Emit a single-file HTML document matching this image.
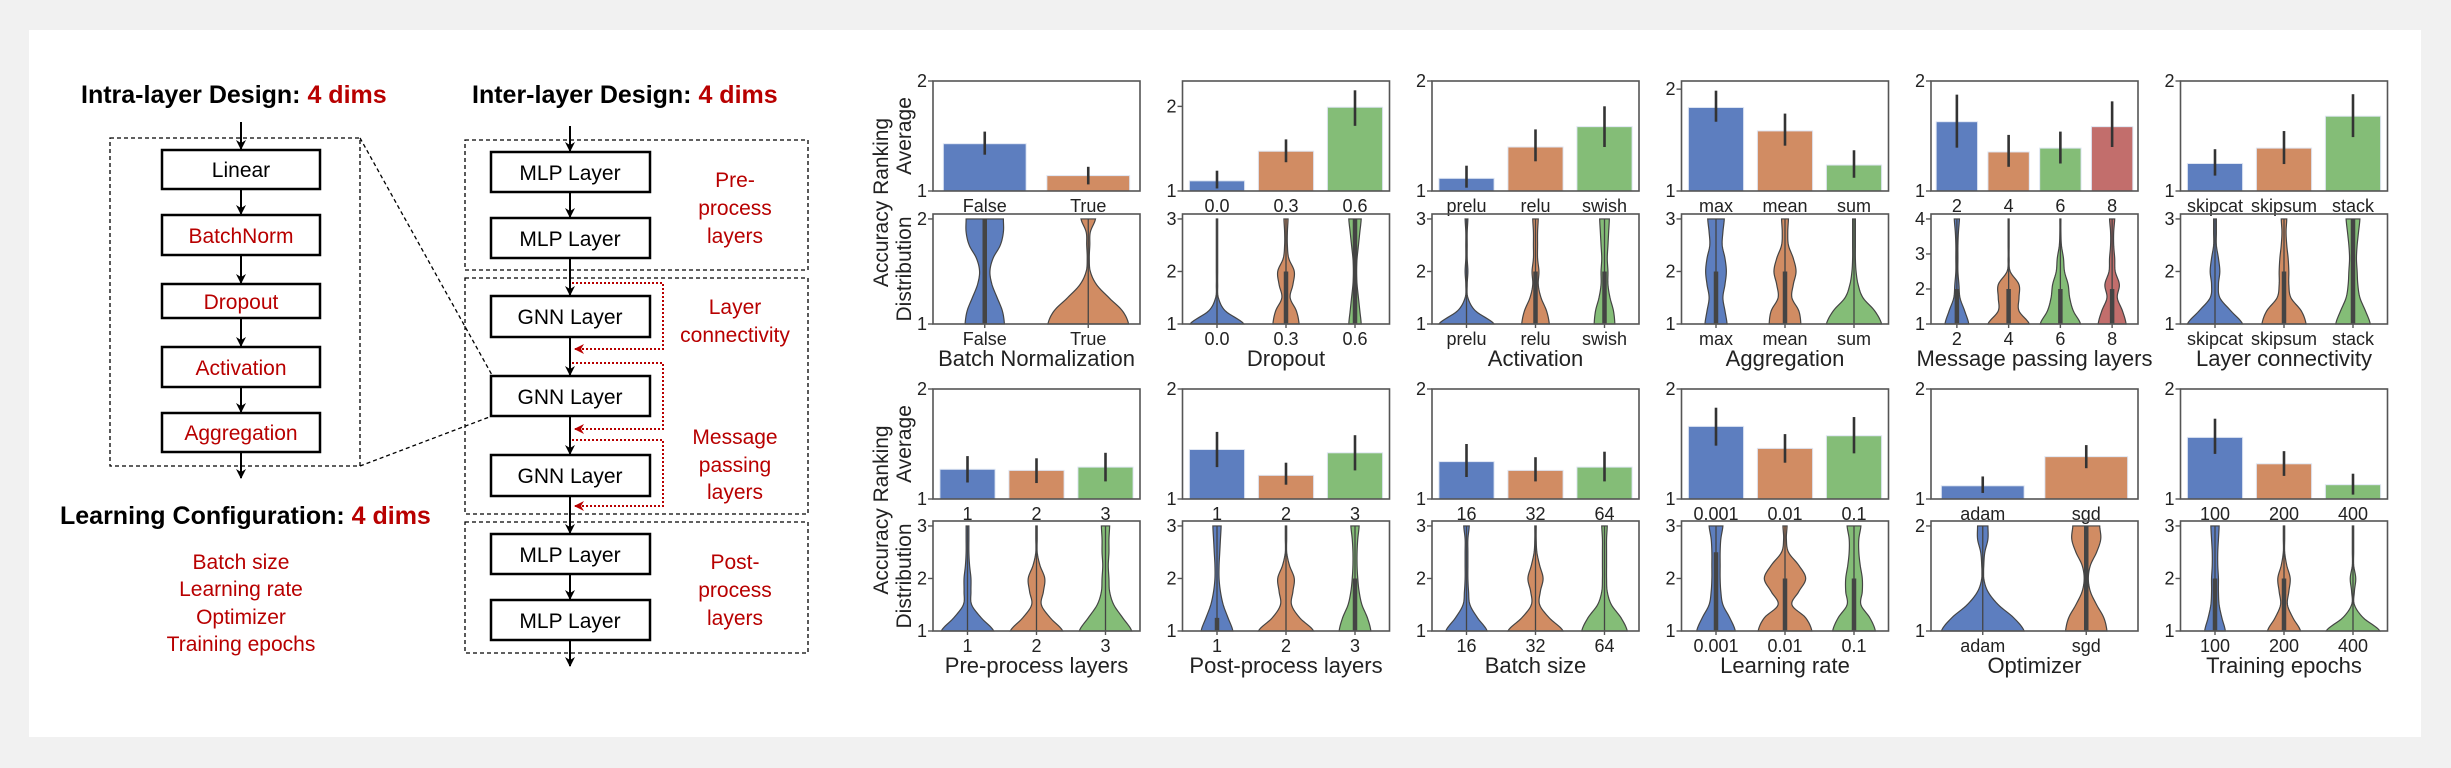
<!DOCTYPE html>
<html><head><meta charset="utf-8"><style>
html,body{margin:0;padding:0;background:#f1f1f1;}
svg{display:block;}
.t{font-family:"Liberation Sans",Arial,sans-serif;}
.n{font-family:"Liberation Sans Narrow","Liberation Sans",Arial,sans-serif;}
</style></head><body>
<svg id="fig" width="2451" height="768" viewBox="0 0 2451 768" xmlns="http://www.w3.org/2000/svg">
<defs>
<marker id="ah" viewBox="0 0 10 10" refX="9" refY="5" markerWidth="5" markerHeight="5" orient="auto"><path d="M0,0 L10,5 L0,10 L3,5 z" fill="#000"/></marker>
<marker id="ahr" viewBox="0 0 10 10" refX="9" refY="5" markerWidth="5" markerHeight="5" orient="auto"><path d="M0,0 L10,5 L0,10 L3,5 z" fill="#b80000"/></marker>
</defs>
<rect x="0" y="0" width="2451" height="768" fill="#f1f1f1"/>
<rect x="29" y="30" width="2392" height="707" fill="#fff"/>

<g id="diagram" class="t">
<text x="81" y="103" font-size="25" font-weight="bold">Intra-layer Design: <tspan fill="#b80000">4 dims</tspan></text>
<text x="472" y="103" font-size="25" font-weight="bold">Inter-layer Design: <tspan fill="#b80000">4 dims</tspan></text>
<rect x="110" y="138" width="250" height="328" fill="none" stroke="#000" stroke-width="1.3" stroke-dasharray="4,3"/>
<line x1="360" y1="138" x2="492" y2="375" stroke="#000" stroke-width="1.3" stroke-dasharray="4,3"/>
<line x1="360" y1="466" x2="492" y2="416" stroke="#000" stroke-width="1.3" stroke-dasharray="4,3"/>
<g stroke="#000" stroke-width="2" marker-end="url(#ah)">
<line x1="241" y1="122" x2="241" y2="149"/><line x1="241" y1="189" x2="241" y2="214"/><line x1="241" y1="255" x2="241" y2="283"/><line x1="241" y1="318" x2="241" y2="346"/><line x1="241" y1="387" x2="241" y2="412"/><line x1="241" y1="452" x2="241" y2="478"/>
</g>
<g fill="#fff" stroke="#000" stroke-width="2.5">
<rect x="162" y="150" width="158" height="39"/>
<rect x="162" y="215" width="158" height="40"/>
<rect x="162" y="284" width="158" height="34"/>
<rect x="162" y="347" width="158" height="40"/>
<rect x="162" y="413" width="158" height="39"/>
</g>
<g font-size="21" text-anchor="middle">
<text x="241" y="177">Linear</text>
<text x="241" y="243" fill="#b80000">BatchNorm</text>
<text x="241" y="309" fill="#b80000">Dropout</text>
<text x="241" y="375" fill="#b80000">Activation</text>
<text x="241" y="440" fill="#b80000">Aggregation</text>
</g>
<text x="60" y="524" font-size="25" font-weight="bold">Learning Configuration: <tspan fill="#b80000">4 dims</tspan></text>
<g font-size="21" text-anchor="middle" fill="#b80000">
<text x="241" y="569">Batch size</text><text x="241" y="596">Learning rate</text><text x="241" y="624">Optimizer</text><text x="241" y="651">Training epochs</text>
</g>
<g fill="none" stroke="#000" stroke-width="1.3" stroke-dasharray="4,3">
<rect x="465" y="140" width="343" height="130"/>
<rect x="465" y="278" width="343" height="236"/>
<rect x="465" y="522" width="343" height="131"/>
</g>
<g stroke="#000" stroke-width="2" marker-end="url(#ah)">
<line x1="570" y1="126" x2="570" y2="151"/><line x1="570" y1="192" x2="570" y2="217"/><line x1="570" y1="258" x2="570" y2="295"/><line x1="570" y1="337" x2="570" y2="375"/><line x1="570" y1="416" x2="570" y2="454"/><line x1="570" y1="496" x2="570" y2="533"/><line x1="570" y1="574" x2="570" y2="599"/><line x1="570" y1="640" x2="570" y2="666"/>
</g>
<g fill="none" stroke="#b80000" stroke-width="2" stroke-dasharray="2,2">
<polyline points="572,283 663,283 663,349 575,349" marker-end="url(#ahr)"/>
<polyline points="572,363 663,363 663,429 575,429" marker-end="url(#ahr)"/>
<polyline points="572,440 663,440 663,506 575,506" marker-end="url(#ahr)"/>
</g>
<g fill="#fff" stroke="#000" stroke-width="2.5">
<rect x="491" y="152" width="159" height="40"/>
<rect x="491" y="218" width="159" height="40"/>
<rect x="491" y="296" width="159" height="41"/>
<rect x="491" y="376" width="159" height="40"/>
<rect x="491" y="455" width="159" height="41"/>
<rect x="491" y="534" width="159" height="40"/>
<rect x="491" y="600" width="159" height="40"/>
</g>
<g font-size="21" text-anchor="middle">
<text x="570" y="180">MLP Layer</text><text x="570" y="246">MLP Layer</text><text x="570" y="324">GNN Layer</text><text x="570" y="404">GNN Layer</text><text x="570" y="483">GNN Layer</text><text x="570" y="562">MLP Layer</text><text x="570" y="628">MLP Layer</text>
</g>
<g font-size="21" text-anchor="middle" fill="#b80000">
<text x="735" y="187">Pre-</text><text x="735" y="215">process</text><text x="735" y="243">layers</text>
<text x="735" y="314">Layer</text><text x="735" y="342">connectivity</text>
<text x="735" y="444">Message</text><text x="735" y="472">passing</text><text x="735" y="499">layers</text>
<text x="735" y="569">Post-</text><text x="735" y="597">process</text><text x="735" y="625">layers</text>
</g>
</g>
<g id="charts"></g>
</svg>
<script>
const titles = ["Batch Normalization","Dropout","Activation","Aggregation","Message passing layers","Layer connectivity","Pre-process layers","Post-process layers","Batch size","Learning rate","Optimizer","Training epochs"];
const categories = [["False","True"],["0.0","0.3","0.6"],["prelu","relu","swish"],["max","mean","sum"],["2","4","6","8"],["skipcat","skipsum","stack"],["1","2","3"],["1","2","3"],["16","32","64"],["0.001","0.01","0.1"],["adam","sgd"],["100","200","400"]];
const barMeans = [[1.43,1.14],[1.12,1.47,1.99],[1.115,1.40,1.585],[1.82,1.59,1.255],[1.63,1.355,1.39,1.585],[1.25,1.39,1.68],[1.27,1.26,1.29],[1.45,1.215,1.42],[1.34,1.26,1.29],[1.66,1.46,1.575],[1.12,1.385],[1.56,1.32,1.13]];
const barLow = [[1.33,1.06],[1.03,1.34,1.77],[1.03,1.27,1.40],[1.68,1.445,1.13],[1.394,1.22,1.25,1.40],[1.14,1.245,1.49],[1.15,1.145,1.16],[1.29,1.13,1.26],[1.20,1.16,1.16],[1.485,1.33,1.415],[1.055,1.28],[1.41,1.21,1.04]];
const barHigh = [[1.54,1.22],[1.24,1.61,2.19],[1.23,1.56,1.77],[1.985,1.76,1.40],[1.876,1.51,1.54,1.815],[1.38,1.545,1.88],[1.39,1.37,1.42],[1.61,1.33,1.58],[1.50,1.38,1.43],[1.83,1.59,1.745],[1.205,1.49],[1.73,1.435,1.23]];
const barYTop = [2,2.3,2,2.08,2,2,2,2,2,2,2,2];
const barTicks = [[1,2],[1,2],[1,2],[1,2],[1,2],[1,2],[1,2],[1,2],[1,2],[1,2],[1,2],[1,2]];
const violinMax = [2,3,3,3,4,3,3,3,3,3,2,3];
const violinTicks = [[1,2],[1,2,3],[1,2,3],[1,2,3],[1,2,3,4],[1,2,3],[1,2,3],[1,2,3],[1,2,3],[1,2,3],[1,2],[1,2,3]];
const violinWidths = [
 [[0.19,0.17,0.12,0.07,0.05,0.08,0.15,0.18,0.18],[0.39,0.33,0.2,0.08,0.02,0.01,0.015,0.02,0.07]],
 [[0.39,0.12,0.02,0.01,0.01,0.01,0.01,0.01,0.01],[0.19,0.15,0.06,0.1,0.12,0.04,0.02,0.02,0.03],[0.09,0.07,0.05,0.03,0.02,0.03,0.05,0.07,0.09]],
 [[0.4,0.13,0.02,0.01,0.02,0.01,0.01,0.01,0.02],[0.2,0.16,0.08,0.04,0.05,0.03,0.03,0.03,0.04],[0.15,0.13,0.08,0.05,0.05,0.04,0.05,0.06,0.07]],
 [[0.16,0.13,0.1,0.13,0.15,0.13,0.09,0.1,0.12],[0.23,0.2,0.1,0.12,0.16,0.12,0.05,0.04,0.05],[0.4,0.3,0.13,0.06,0.03,0.02,0.02,0.02,0.02]],
 [[0.23,0.15,0.06,0.04,0.02,0.02,0.02,0.03,0.05],[0.4,0.2,0.2,0.2,0.03,0.01,0.01,0.01,0.01],[0.39,0.25,0.18,0.15,0.08,0.06,0.02,0.01,0.01],[0.27,0.2,0.1,0.14,0.06,0.05,0.03,0.03,0.05]],
 [[0.4,0.23,0.07,0.05,0.07,0.05,0.02,0.02,0.02],[0.32,0.25,0.1,0.07,0.07,0.06,0.04,0.03,0.04],[0.25,0.18,0.1,0.07,0.06,0.05,0.06,0.08,0.1]],
 [[0.38,0.2,0.06,0.05,0.05,0.03,0.02,0.02,0.02],[0.38,0.2,0.07,0.1,0.12,0.05,0.01,0.01,0.01],[0.38,0.25,0.12,0.06,0.05,0.04,0.05,0.05,0.06]],
 [[0.23,0.16,0.09,0.05,0.03,0.03,0.04,0.05,0.06],[0.4,0.2,0.08,0.1,0.12,0.05,0.01,0.01,0.01],[0.23,0.18,0.1,0.06,0.04,0.03,0.03,0.04,0.06]],
 [[0.3,0.16,0.05,0.03,0.02,0.02,0.02,0.02,0.04],[0.4,0.2,0.06,0.07,0.11,0.06,0.02,0.01,0.01],[0.33,0.24,0.1,0.04,0.03,0.03,0.03,0.03,0.04]],
 [[0.28,0.2,0.1,0.07,0.06,0.06,0.06,0.07,0.1],[0.39,0.3,0.1,0.2,0.3,0.2,0.05,0.02,0.03],[0.31,0.23,0.1,0.12,0.12,0.09,0.07,0.07,0.1]],
 [[0.4,0.3,0.15,0.05,0.01,0.01,0.02,0.05,0.05],[0.2,0.17,0.1,0.04,0.02,0.04,0.1,0.14,0.13]],
 [[0.15,0.1,0.06,0.05,0.05,0.04,0.04,0.05,0.06],[0.24,0.13,0.05,0.07,0.09,0.04,0.01,0.01,0.01],[0.39,0.15,0.02,0.02,0.04,0.01,0.01,0.01,0.01]]
];
const violinIqrHigh = [[2,1],[1,2,3],[1,2,2],[2,2,1],[2,2,2,2],[1,2,3],[1,1,1],[1.25,1,2],[1,1,1],[2.5,2,2],[1,2],[2,2,1]];

const NS = "http://www.w3.org/2000/svg";
const colors = ["#5d7ebf","#d18c63","#84bd77","#c26e6c"];
const root = document.getElementById("charts");
function mk(tag, attrs, parent){const e=document.createElementNS(NS,tag);for(const k in attrs)e.setAttribute(k,attrs[k]);(parent||root).appendChild(e);return e;}
function txt(s, attrs, parent){const e=mk("text",attrs,parent);e.textContent=s;return e;}
const PW=207, PH=110;
const rowBarTop=[81,389], rowVioTop=[214,521];
function slug(s){return s.toLowerCase().replace(/[^a-z0-9]+/g,'-');}

for(let p=0;p<12;p++){
  const col=p%6, row=Math.floor(p/6);
  const x0=933+col*249.5;
  const cats=categories[p], n=cats.length, slot=PW/n;
  const xc=i=>x0+slot*(i+0.5);
  const g=mk("g",{});
  
  
  // ---- bar chart
  const bt=rowBarTop[row], bb=bt+PH;
  const yb=v=>bb-(v-1)/(barYTop[p]-1)*PH;
  const bg=mk("g",{},g);
  
  
  for(let i=0;i<n;i++){
    const bw=slot*0.8;
    const r=mk("rect",{x:xc(i)-bw/2,y:yb(barMeans[p][i]),width:bw,height:bb-yb(barMeans[p][i]),fill:colors[i],stroke:"#dfe6f3","stroke-width":1},bg);
    
    
    const e=mk("line",{x1:xc(i),x2:xc(i),y1:yb(barLow[p][i]),y2:yb(barHigh[p][i]),stroke:"#333","stroke-width":2.6},bg);
    
    
    const l=txt(cats[i],{x:xc(i),y:bb+21,"font-size":18,"text-anchor":"middle",fill:"#222",class:"n"},bg);
    
    
  }
  const bf=mk("rect",{x:x0,y:bt,width:PW,height:PH,fill:"none",stroke:"#555","stroke-width":1.6},bg);
  
  
  barTicks[p].forEach(t=>{
    mk("line",{x1:x0-5,x2:x0,y1:yb(t),y2:yb(t),stroke:"#555","stroke-width":1.4},bg);
    const tl=txt(String(t),{x:x0-6,y:yb(t)+6,"font-size":18,"text-anchor":"end",fill:"#222",class:"n"},bg);
    
    
  });
  // ---- violin chart
  const vt=rowVioTop[row], vb=vt+PH;
  const vmax=violinMax[p];
  const vTop=1+(vmax-1)/0.955;
  const yv=v=>vb-(v-1)/(vTop-1)*PH;
  const vg=mk("g",{},g);
  
  
  for(let i=0;i<n;i++){
    const w=violinWidths[p][i], m=w.length;
    const pts=[];
    for(let k=0;k<m-1;k++){
      for(let s=0;s<8;s++){
        const t=s/8;
        const p0=w[Math.max(k-1,0)],p1=w[k],p2=w[k+1],p3=w[Math.min(k+2,m-1)];
        let v=0.5*((2*p1)+(-p0+p2)*t+(2*p0-5*p1+4*p2-p3)*t*t+(-p0+3*p1-3*p2+p3)*t*t*t);
        v=Math.max(v,0.008);
        pts.push([1+(k+t)*(vmax-1)/(m-1),v]);
      }
    }
    pts.push([vmax,w[m-1]]);
    let d="M"+(xc(i)-pts[0][1]*slot)+","+yv(pts[0][0]);
    pts.forEach(q=>{d+=" L"+(xc(i)+q[1]*slot).toFixed(2)+","+yv(q[0]).toFixed(2);});
    for(let k=pts.length-1;k>=0;k--){d+=" L"+(xc(i)-pts[k][1]*slot).toFixed(2)+","+yv(pts[k][0]).toFixed(2);}
    d+="Z";
    const vp=mk("path",{d:d,fill:colors[i],stroke:"#444","stroke-width":1.2},vg);
    
    
    mk("line",{x1:xc(i),x2:xc(i),y1:yv(1),y2:yv(vmax),stroke:"#444","stroke-width":1.3},vg);
    const ih=violinIqrHigh[p][i];
    if(ih>1){
      const ib=mk("line",{x1:xc(i),x2:xc(i),y1:yv(1),y2:yv(ih),stroke:"#444","stroke-width":4.5},vg);
      
      
    }
    mk("line",{x1:xc(i),x2:xc(i),y1:vb,y2:vb+4,stroke:"#555","stroke-width":1.4},vg);
    const l=txt(cats[i],{x:xc(i),y:vb+21,"font-size":18,"text-anchor":"middle",fill:"#222",class:"n"},vg);
    
    
  }
  const vf=mk("rect",{x:x0,y:vt,width:PW,height:PH,fill:"none",stroke:"#555","stroke-width":1.6},vg);
  
  
  violinTicks[p].forEach(t=>{
    mk("line",{x1:x0-5,x2:x0,y1:yv(t),y2:yv(t),stroke:"#555","stroke-width":1.4},vg);
    const tl=txt(String(t),{x:x0-6,y:yv(t)+6,"font-size":18,"text-anchor":"end",fill:"#222",class:"n"},vg);
    
    
  });
  const xl=txt(titles[p],{x:x0+PW/2,y:vb+42,"font-size":22,"text-anchor":"middle",fill:"#222",class:"n"},g);
  
  
}
// y-axis titles
[0,1].forEach(r=>{
  const bc=rowBarTop[r]+PH/2, vc=rowVioTop[r]+PH/2, mid=(bc+vc)/2;
  const a=txt("Accuracy Ranking",{x:0,y:0,"font-size":21,"text-anchor":"middle",fill:"#222",class:"t",transform:"translate(888,"+mid+") rotate(-90)"});
  
  
  const b=txt("Average",{x:0,y:0,"font-size":21,"text-anchor":"middle",fill:"#222",class:"t",transform:"translate(911,"+bc+") rotate(-90)"});
  
  
  const c=txt("Distribution",{x:0,y:0,"font-size":21,"text-anchor":"middle",fill:"#222",class:"t",transform:"translate(911,"+vc+") rotate(-90)"});
  
  
});
</script>
</body></html>
